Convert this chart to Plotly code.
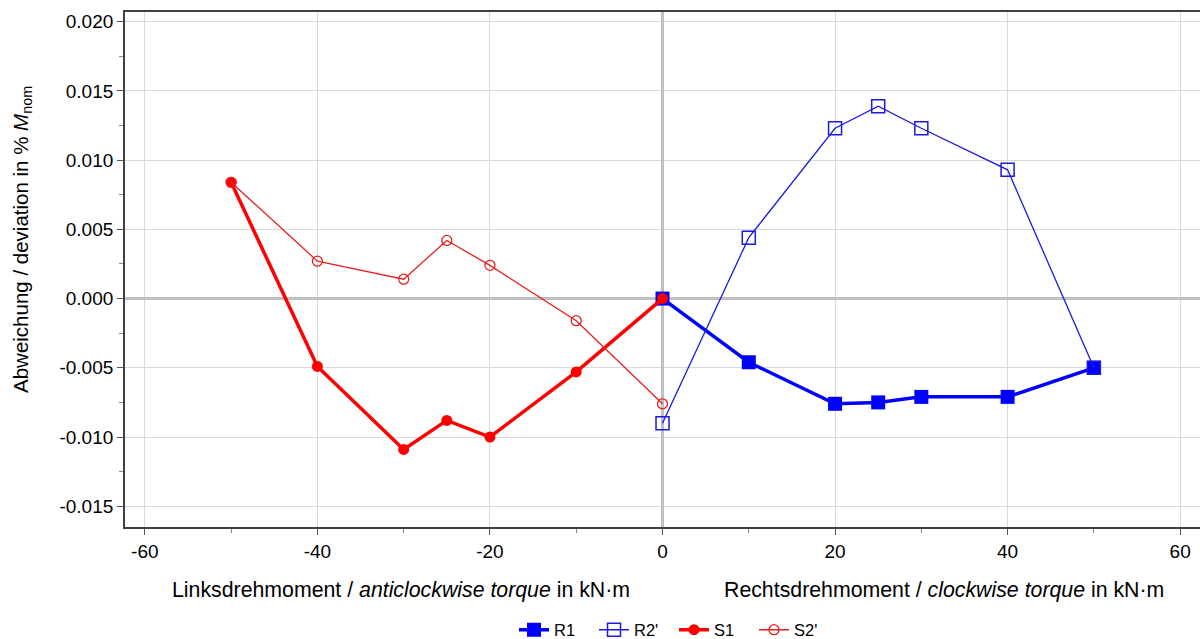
import plotly.graph_objects as go

x_r = [0, 10, 20, 25, 30, 40, 50]
r1 = [0.0, -0.0046, -0.0076, -0.0075, -0.0071, -0.0071, -0.0050]
r2p = [-0.0090, 0.0044, 0.0123, 0.0139, 0.0123, 0.0093, -0.0050]

x_s = [-50, -40, -30, -25, -20, -10, 0]
s1 = [0.0084, -0.0049, -0.0109, -0.0088, -0.0100, -0.0053, 0.0]
s2p = [0.0084, 0.0027, 0.0014, 0.0042, 0.0024, -0.0016, -0.0076]

x_ticks = [-60, -40, -20, 0, 20, 40, 60]
y_ticks = [-0.015, -0.010, -0.005, 0.000, 0.005, 0.010, 0.015, 0.020]

BLUE = "#0000ff"
RED = "#ff0000"
FONT = "Liberation Sans, Arial, sans-serif"

W, H = 1200, 639
ML, MR, MT, MB = 125, 0, 12, 112
PW, PH = W - ML - MR, H - MT - MB

def px_x(p):
    return (p - ML) / PW

def px_y(p):
    return (H - MB - p) / PH

fig = go.Figure()
fig.add_trace(go.Scatter(x=x_r, y=r1, name="R1", mode="lines+markers",
                         line=dict(color=BLUE, width=3.5),
                         marker=dict(symbol="square", size=14, color=BLUE)))
fig.add_trace(go.Scatter(x=x_r, y=r2p, name="R2'", mode="lines+markers",
                         line=dict(color="#1a1ae0", width=1.3),
                         marker=dict(symbol="square-open", size=13, color="#1a1ae0",
                                     line=dict(width=1.5))))
fig.add_trace(go.Scatter(x=x_s, y=s1, name="S1", mode="lines+markers",
                         line=dict(color=RED, width=3.5),
                         marker=dict(symbol="circle", size=11, color=RED)))
fig.add_trace(go.Scatter(x=x_s, y=s2p, name="S2'", mode="lines+markers",
                         line=dict(color="#e52020", width=1.3),
                         marker=dict(symbol="circle-open", size=10, color="#e52020",
                                     line=dict(width=1.3))))

fig.update_layout(
    width=W, height=H,
    margin=dict(l=ML, r=MR, t=MT, b=MB, autoexpand=False),
    paper_bgcolor="white", plot_bgcolor="white",
    font=dict(family=FONT, size=19, color="black"),
    showlegend=True,
    legend=dict(orientation="h", x=px_x(674), xanchor="center", y=px_y(630), yanchor="middle",
                font=dict(size=16.5), tracegroupgap=0,
                entrywidth=35, entrywidthmode="pixels"),
)
fig.update_xaxes(
    range=[-62.3, 62.3], tickvals=x_ticks, ticktext=[str(v) for v in x_ticks],
    showgrid=True, gridcolor="#d9d9d9", gridwidth=1,
    zeroline=True, zerolinecolor="#c0c0c0", zerolinewidth=3,
    showline=True, linecolor="#404040", linewidth=1.8, mirror=True,
    ticks="outside", ticklen=6, tickcolor="#555555",
    minor=dict(dtick=10, tick0=0, ticks="outside", ticklen=4, tickcolor="#888888", showgrid=False),
    tickfont=dict(size=19), automargin=False,
)
fig.update_yaxes(
    range=[-0.0165, 0.0207], tickvals=y_ticks, ticktext=[f"{v:.3f}" for v in y_ticks],
    showgrid=True, gridcolor="#d9d9d9", gridwidth=1,
    zeroline=True, zerolinecolor="#c0c0c0", zerolinewidth=3,
    showline=True, linecolor="#404040", linewidth=1.8,
    ticks="outside", ticklen=6, tickcolor="#555555",
    minor=dict(dtick=0.0025, tick0=0, ticks="outside", ticklen=4, tickcolor="#888888", showgrid=False),
    tickfont=dict(size=19), automargin=False,
)

fig.add_annotation(text="Abweichung / deviation in % <i>M</i><sub>nom</sub>",
                   xref="paper", yref="paper", x=px_x(22), y=px_y(240), textangle=-90,
                   xanchor="center", yanchor="middle", showarrow=False, font=dict(size=20.5))
fig.add_annotation(text="Linksdrehmoment / <i>anticlockwise torque</i> in kN·m",
                   xref="paper", yref="paper", x=px_x(401), y=px_y(590),
                   xanchor="center", yanchor="middle", showarrow=False, font=dict(size=21.3))
fig.add_annotation(text="Rechtsdrehmoment / <i>clockwise torque</i> in kN·m",
                   xref="paper", yref="paper", x=px_x(944), y=px_y(590),
                   xanchor="center", yanchor="middle", showarrow=False, font=dict(size=21.3))

fig.write_html(
    "out.html",
    config={"displayModeBar": False},
    post_script="document.body.style.margin='0';document.body.style.overflow='hidden';",
)
